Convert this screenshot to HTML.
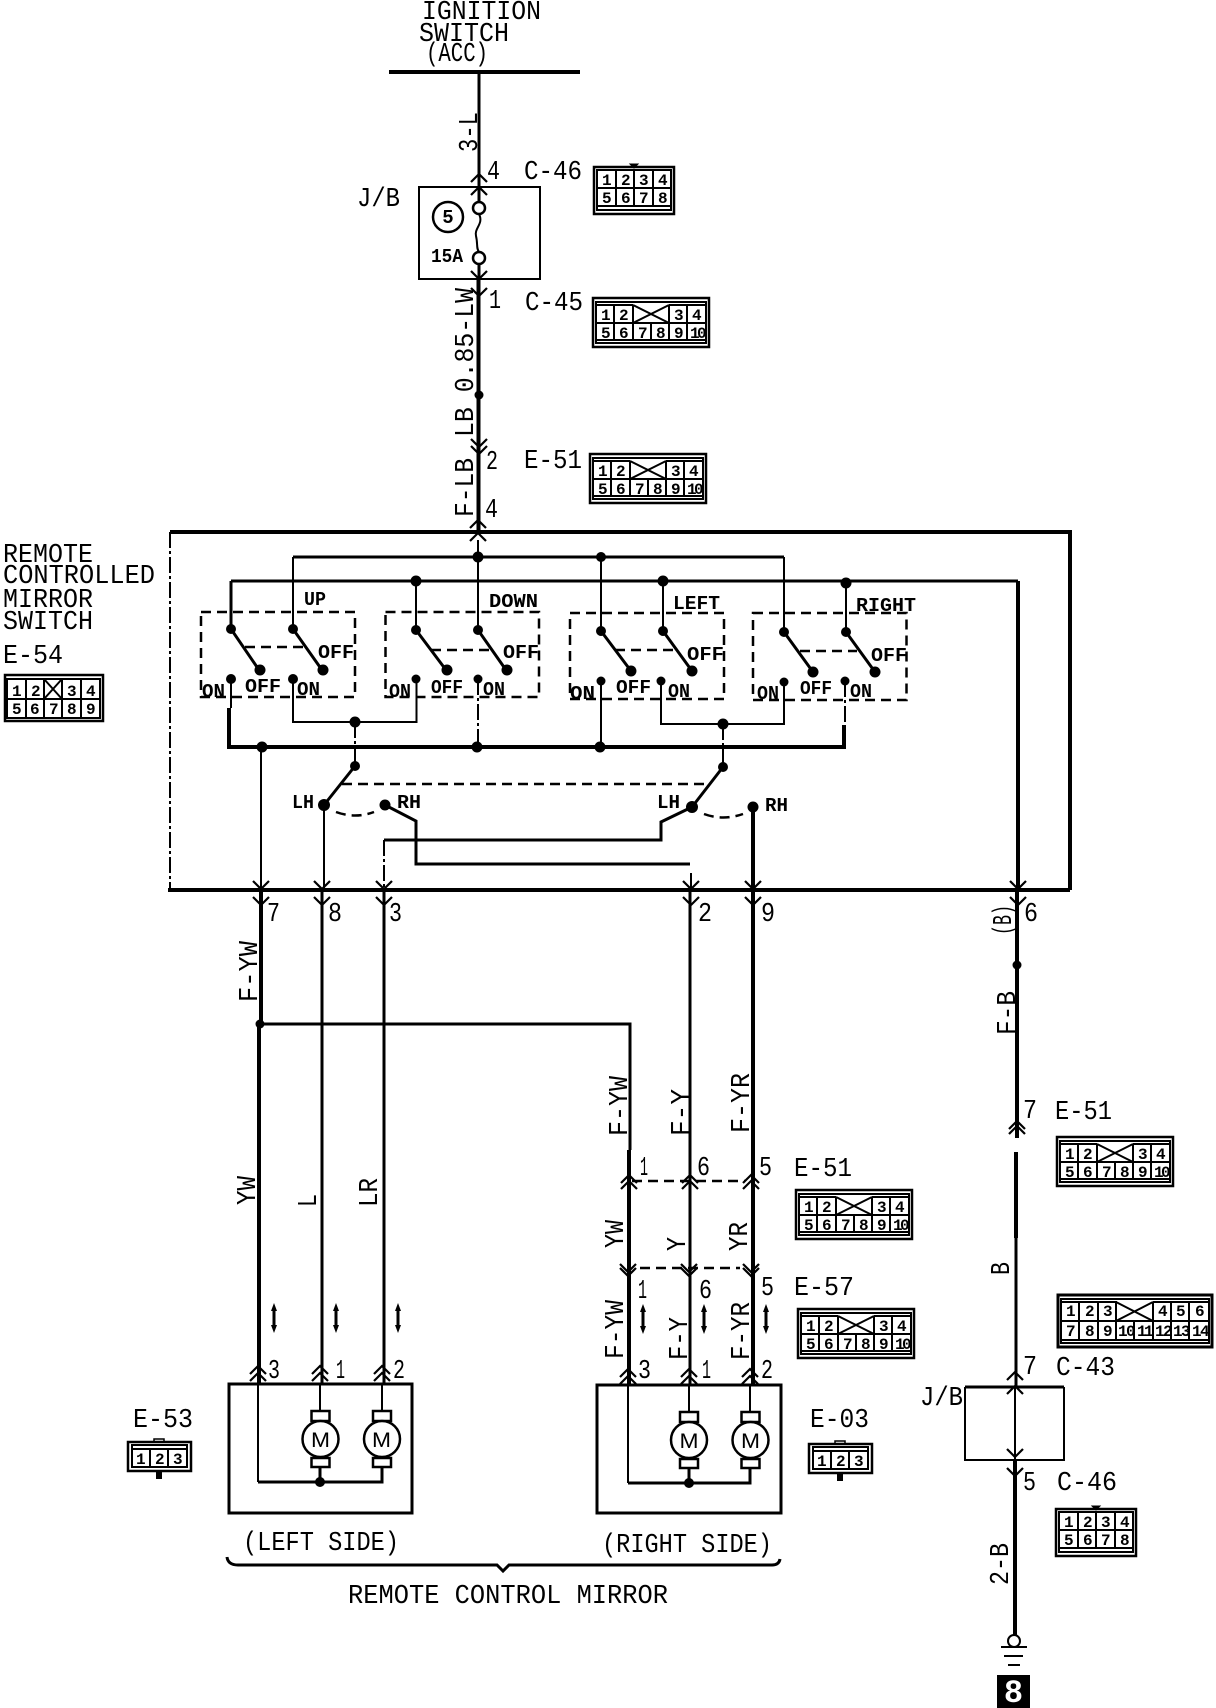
<!DOCTYPE html>
<html lang="en">
<head>
<meta charset="utf-8">
<title>Remote Controlled Mirror Wiring Diagram</title>
<style>
html,body{margin:0;padding:0;background:#fff;width:1216px;height:1708px;overflow:hidden}
svg{display:block}
text{font-family:"Liberation Mono","DejaVu Sans Mono",monospace;fill:#000;font-size:27px}
.s{font-size:19px;font-weight:bold}
.d{font-size:16px;font-weight:bold}
.w{fill:none;stroke:#000;stroke-width:2}
.m{fill:none;stroke:#000;stroke-width:3}
.k{fill:none;stroke:#000;stroke-width:4}
.da{fill:none;stroke:#000;stroke-width:2.5;stroke-dasharray:10 6}
.dd{fill:none;stroke:#000;stroke-width:2;stroke-dasharray:16 3 3 3}
</style>
</head>
<body>
<svg xmlns="http://www.w3.org/2000/svg" width="1216" height="1708" viewBox="0 0 1216 1708">
<defs>
<path id="u" d="M-8,8 L0,0 L8,8" fill="none" stroke="#000" stroke-width="2.2"/>
<path id="n" d="M-8,-8 L0,0 L8,-8" fill="none" stroke="#000" stroke-width="2.2"/>
<path id="ar" d="M0,0 L3,8 L1.500,8 L1.500,22 L3,22 L0,30 L-3,22 L-1.500,22 L-1.500,8 L-3,8 Z" fill="#000"/>
<g id="c10" fill="none" stroke="#000">
<rect x="1" y="1" width="116" height="49" stroke-width="2.5"/>
<path d="M4,5 H114 V46 H4 Z M4,8 H41 M77,8 H114 M4,26 H114 M4,43 H114" stroke-width="2"/>
<path d="M22,8 V43 M41,8 V43 M59,26 V43 M77,8 V43 M95,8 V43 M41,8 L77,26 M77,8 L41,26" stroke-width="2"/>
</g>
<g id="c8" fill="none" stroke="#000">
<rect x="1" y="1" width="80" height="47" stroke-width="2.5"/>
<path d="M4,4 H78 V44 H4 Z M4,22 H78 M4,40 H78 M23,4 V40 M41,4 V40 M60,4 V40" stroke-width="2"/>
<path d="M37,-2 H45 L41,2 Z" fill="#000"/>
</g>
<g id="c3" fill="none" stroke="#000">
<rect x="1" y="1" width="63" height="29" stroke-width="2.5"/>
<path d="M5,4 H60 V26 H5 Z M5,8 H60 M23,8 V26 M41,8 V26" stroke-width="2"/>
<path d="M27,1 V-2 H37 V1" stroke-width="1.5"/>
<rect x="29" y="31" width="6" height="7" fill="#000" stroke="none"/>
</g>
<g id="mo" fill="#fff" stroke="#000" stroke-width="2.5">
<rect x="-9" y="-28" width="18" height="10"/>
<rect x="-9" y="19" width="18" height="9"/>
<circle r="18"/>
</g>
</defs>

<!-- Ignition -->
<text x="422" y="19" textLength="119" lengthAdjust="spacingAndGlyphs">IGNITION</text>
<text x="419" y="41" textLength="90" lengthAdjust="spacingAndGlyphs">SWITCH</text>
<text x="426" y="61" textLength="62" lengthAdjust="spacingAndGlyphs">(ACC)</text>
<path class="k" d="M389,72 H580"/>
<path class="m" d="M479,72 V187 M479,264 V280"/>
<path class="m" d="M479,187 V202"/>
<path class="k" d="M478.500,280 V532"/>
<circle cx="479" cy="395" r="4.500"/>
<text transform="translate(477,152) rotate(-90)" textLength="40" lengthAdjust="spacingAndGlyphs">3-L</text>
<use href="#u" x="479" y="174"/><use href="#u" x="479" y="187"/>
<text x="487" y="179" textLength="13" lengthAdjust="spacingAndGlyphs">4</text>
<text x="524" y="179" textLength="58" lengthAdjust="spacingAndGlyphs">C-46</text>
<text x="357" y="206" textLength="43" lengthAdjust="spacingAndGlyphs">J/B</text>
<rect x="419" y="187" width="121" height="92" class="w"/>
<circle cx="448" cy="217" r="15" fill="none" stroke="#000" stroke-width="2.500"/>
<text x="448" y="223" class="s" text-anchor="middle">5</text>
<circle cx="479" cy="208" r="6" fill="#fff" stroke="#000" stroke-width="2.500"/>
<circle cx="479" cy="258" r="6" fill="#fff" stroke="#000" stroke-width="2.500"/>
<path class="w" d="M479,214 C484,224 474,228 476,236 C478,244 476,248 479,252"/>
<text x="431" y="262" class="s" textLength="32" lengthAdjust="spacingAndGlyphs">15A</text>
<use href="#n" x="479" y="279"/><use href="#n" x="479" y="296"/>
<text x="489" y="308" textLength="12" lengthAdjust="spacingAndGlyphs">1</text>
<text x="525" y="310" textLength="58" lengthAdjust="spacingAndGlyphs">C-45</text>
<text transform="translate(473,437) rotate(-90)" textLength="149" lengthAdjust="spacingAndGlyphs">LB 0.85-LW</text>
<text transform="translate(473,517) rotate(-90)" textLength="59" lengthAdjust="spacingAndGlyphs">F-LB</text>
<use href="#n" x="479" y="447"/><use href="#n" x="479" y="454"/>
<text x="486" y="469" textLength="12" lengthAdjust="spacingAndGlyphs">2</text>
<text x="524" y="468" textLength="58" lengthAdjust="spacingAndGlyphs">E-51</text>
<text x="485" y="517" textLength="13" lengthAdjust="spacingAndGlyphs">4</text>
<use href="#u" x="478" y="520"/><use href="#u" x="478" y="533"/>

<!-- Connectors -->
<g transform="translate(593,166)"><use href="#c8"/>
<text class="d" x="9 28 46 65" y="19">1234</text><text class="d" x="9 28 46 65" y="37">5678</text></g>
<g transform="translate(592,297)"><use href="#c10"/>
<text class="d" x="9 27 82 100" y="23">1234</text><text class="d" x="9 27 46 64 82 98 105" y="41">5678910</text></g>
<g transform="translate(589,453)"><use href="#c10"/>
<text class="d" x="9 27 82 100" y="23">1234</text><text class="d" x="9 27 46 64 82 98 105" y="41">5678910</text></g>
<g transform="translate(795,1189)"><use href="#c10"/>
<text class="d" x="9 27 82 100" y="23">1234</text><text class="d" x="9 27 46 64 82 98 105" y="41">5678910</text></g>
<g transform="translate(797,1308)"><use href="#c10"/>
<text class="d" x="9 27 82 100" y="23">1234</text><text class="d" x="9 27 46 64 82 98 105" y="41">5678910</text></g>
<g transform="translate(1056,1136)"><use href="#c10"/>
<text class="d" x="9 27 82 100" y="23">1234</text><text class="d" x="9 27 46 64 82 98 105" y="41">5678910</text></g>
<g transform="translate(1055,1508)"><use href="#c8"/>
<text class="d" x="9 28 46 65" y="19">1234</text><text class="d" x="9 28 46 65" y="37">5678</text></g>
<g transform="translate(127,1441)"><use href="#c3"/><text class="d" x="9 28 46" y="23">123</text></g>
<g transform="translate(808,1443)"><use href="#c3"/><text class="d" x="9 28 46" y="23">123</text></g>
<!-- E-54 -->
<g transform="translate(4,674)" fill="none" stroke="#000">
<rect x="1" y="1" width="98" height="46" stroke-width="2.500"/>
<path d="M3,5 H96 V44 H3 Z M3,25 H96 M22,5 V44 M40,5 V44 M58,5 V44 M77,5 V44 M40,5 L58,25 M58,5 L40,25" stroke-width="2"/>
<text class="d" x="8 27 63 82" y="22" stroke="none">1234</text><text class="d" x="8 26 45 63 82" y="40" stroke="none">56789</text>
</g>
<!-- 14 pin -->
<g transform="translate(1057,1294)" fill="none" stroke="#000">
<rect x="1" y="1" width="154" height="52" stroke-width="3"/>
<path d="M4,5 H152 V49 H4 Z M4,8 H60 M96,8 H152 M4,27 H152 M4,46 H152" stroke-width="2"/>
<path d="M22,8 V46 M41,8 V46 M59,8 V46 M77,27 V46 M96,8 V46 M114,8 V46 M132,8 V46 M59,8 L96,27 M96,8 L59,27" stroke-width="2"/>
<text class="d" x="9 28 46 101 119 138" y="22" stroke="none">123456</text>
<text class="d" x="9 28 46 61 69 80 87 98 106 116 124 135 143" y="42" stroke="none">7891011121314</text>
</g>

<!-- Title -->
<text x="3" y="562" textLength="90" lengthAdjust="spacingAndGlyphs">REMOTE</text>
<text x="3" y="583" textLength="152" lengthAdjust="spacingAndGlyphs">CONTROLLED</text>
<text x="3" y="607" textLength="90" lengthAdjust="spacingAndGlyphs">MIRROR</text>
<text x="3" y="629" textLength="90" lengthAdjust="spacingAndGlyphs">SWITCH</text>
<text x="3" y="663" textLength="60" lengthAdjust="spacingAndGlyphs">E-54</text>

<!-- Outer switch box -->
<path class="k" d="M170,532 H1070 V890 M1070,890 H168"/>
<path class="dd" d="M170,532 V888"/>

<!-- Buses -->
<path class="m" d="M293,557 H784"/>
<path class="m" d="M231,581 H1018"/>
<path class="k" d="M1018,581 V890"/>
<path class="k" d="M229,708 V747 H844 V725"/>
<path class="w" d="M293,557 V629 M478,540 V630 M601,557 V631 M784,557 V632"/>
<path class="m" d="M231,581 V629"/>
<path class="w" d="M416,581 V630 M663,581 V631 M846,581 V632"/>
<path class="w" d="M231,679 V708 M293,679 V722 H416.500 V679 M661,681 V724 H784 V682"/>
<path class="dd" d="M478,679 V747 M845,681 V725"/>
<path class="w" d="M601,681 V747"/>
<path class="dd" d="M355,722 V766 M723,724 V767"/>

<!-- Switch dashed boxes -->
<rect class="da" x="201" y="612" width="154" height="85"/>
<rect class="da" x="385.500" y="612" width="153.500" height="85"/>
<rect class="da" x="570" y="613" width="154" height="86"/>
<rect class="da" x="753" y="613" width="153.500" height="87"/>
<!-- Blades -->
<path class="m" d="M231,629 L259,670 M293,629 L322,670 M416,630 L446,670 M478,630 L506,670 M601,631 L631,671 M663,631 L692,671 M784,632 L813,672 M846,632 L875,672"/>
<path class="da" d="M245,647 H308 M431,650 H490 M615,650 H678 M800,651 H857"/>
<!-- Dots -->
<g fill="#000">
<circle cx="478" cy="557" r="5.500"/><circle cx="601" cy="557" r="5"/>
<circle cx="416" cy="581" r="5.500"/><circle cx="663" cy="581" r="5.500"/><circle cx="846" cy="583" r="5.500"/>
<circle cx="231" cy="629" r="5"/><circle cx="293" cy="629" r="5"/><circle cx="416" cy="630" r="5"/><circle cx="478" cy="630" r="5"/>
<circle cx="601" cy="631" r="5"/><circle cx="663" cy="631" r="5"/><circle cx="784" cy="632" r="5"/><circle cx="846" cy="632" r="5"/>
<circle cx="260" cy="670" r="5.500"/><circle cx="323" cy="670" r="5.500"/><circle cx="447" cy="670" r="5.500"/><circle cx="507" cy="670" r="5.500"/>
<circle cx="631" cy="671" r="5.500"/><circle cx="692" cy="671" r="5.500"/><circle cx="813" cy="672" r="5.500"/><circle cx="875" cy="672" r="5.500"/>
<circle cx="231" cy="679" r="5"/><circle cx="293" cy="679" r="5"/><circle cx="416" cy="679" r="4.500"/><circle cx="478" cy="679" r="4.500"/>
<circle cx="601" cy="681" r="4.500"/><circle cx="661" cy="681" r="4.500"/><circle cx="784" cy="682" r="4.500"/><circle cx="845" cy="681" r="4.500"/>
<circle cx="355" cy="722" r="5.500"/><circle cx="723" cy="724" r="5.500"/>
<circle cx="262" cy="747" r="5.500"/><circle cx="477" cy="747" r="5.500"/><circle cx="600" cy="747" r="5.500"/>
<circle cx="355" cy="766" r="5"/><circle cx="723" cy="767" r="5"/>
<circle cx="324" cy="805" r="6"/><circle cx="692" cy="807" r="6"/>
<circle cx="385" cy="805" r="5.500"/><circle cx="753" cy="807" r="5.500"/>
</g>
<!-- Switch labels -->
<g>
<text class="s" x="304" y="605" textLength="22" lengthAdjust="spacingAndGlyphs">UP</text>
<text class="s" x="489" y="607" textLength="49" lengthAdjust="spacingAndGlyphs">DOWN</text>
<text class="s" x="673" y="609" textLength="47" lengthAdjust="spacingAndGlyphs">LEFT</text>
<text class="s" x="856" y="611" textLength="60" lengthAdjust="spacingAndGlyphs">RIGHT</text>
<text class="s" x="318" y="658" textLength="36" lengthAdjust="spacingAndGlyphs">OFF</text>
<text class="s" x="503" y="658" textLength="36" lengthAdjust="spacingAndGlyphs">OFF</text>
<text class="s" x="687" y="660" textLength="37" lengthAdjust="spacingAndGlyphs">OFF</text>
<text class="s" x="871" y="661" textLength="36" lengthAdjust="spacingAndGlyphs">OFF</text>
<text class="s" x="245" y="692" textLength="36" lengthAdjust="spacingAndGlyphs">OFF</text>
<text class="s" x="431" y="693" textLength="32" lengthAdjust="spacingAndGlyphs">OFF</text>
<text class="s" x="616" y="693" textLength="35" lengthAdjust="spacingAndGlyphs">OFF</text>
<text class="s" x="800" y="694" textLength="32" lengthAdjust="spacingAndGlyphs">OFF</text>
<text class="s" x="202" y="697" textLength="23" lengthAdjust="spacingAndGlyphs">ON</text>
<text class="s" x="297" y="695" textLength="23" lengthAdjust="spacingAndGlyphs">ON</text>
<text class="s" x="389" y="697" textLength="22" lengthAdjust="spacingAndGlyphs">ON</text>
<text class="s" x="483" y="695" textLength="22" lengthAdjust="spacingAndGlyphs">ON</text>
<text class="s" x="570" y="699" textLength="25" lengthAdjust="spacingAndGlyphs">ON</text>
<text class="s" x="668" y="697" textLength="22" lengthAdjust="spacingAndGlyphs">ON</text>
<text class="s" x="757" y="699" textLength="22" lengthAdjust="spacingAndGlyphs">ON</text>
<text class="s" x="850" y="697" textLength="22" lengthAdjust="spacingAndGlyphs">ON</text>
<text class="s" x="292" y="808" textLength="22" lengthAdjust="spacingAndGlyphs">LH</text>
<text class="s" x="397" y="808" textLength="24" lengthAdjust="spacingAndGlyphs">RH</text>
<text class="s" x="657" y="808" textLength="23" lengthAdjust="spacingAndGlyphs">LH</text>
<text class="s" x="765" y="811" textLength="23" lengthAdjust="spacingAndGlyphs">RH</text>
</g>
<!-- Selector -->
<path class="m" d="M355,766 L324,805 M723,767 L692,807"/>
<path class="da" d="M342,784 H706"/>
<path class="da" d="M336,812 Q355,819 374,812 M704,814 Q723,821 743,814"/>
<path class="m" d="M385,805 L416,821 V864 H690"/>
<path class="m" d="M692,807 L661,822 V840 H384"/>
<path class="dd" d="M384,840 V888"/>
<path class="w" d="M324,805 V888 M261,747 V888"/>
<path class="w" d="M691,873 V890"/>
<path class="k" d="M753,807 V1385"/>

<!-- Lower wires -->
<path class="k" d="M261,890 V1024"/>
<path class="k" d="M259,1024 V1383"/>
<path class="m" d="M322,890 V1383"/>
<path class="m" d="M384,890 V1383"/>
<path class="m" d="M259,1024 H630 V1150"/>
<path class="k" d="M629,1150 V1385"/>
<path class="m" d="M690,890 V1385"/>
<circle cx="260" cy="1024" r="4.500"/>
<g>
<use href="#n" x="261" y="889"/><use href="#n" x="261" y="905"/>
<use href="#n" x="322" y="889"/><use href="#n" x="322" y="905"/>
<use href="#n" x="384" y="889"/><use href="#n" x="384" y="905"/>
<use href="#n" x="691" y="889"/><use href="#n" x="691" y="905"/>
<use href="#n" x="753" y="889"/><use href="#n" x="753" y="905"/>
<use href="#n" x="1018" y="889"/><use href="#n" x="1018" y="905"/>
</g>
<text x="267" y="921" textLength="13" lengthAdjust="spacingAndGlyphs">7</text>
<text x="328" y="921" textLength="14" lengthAdjust="spacingAndGlyphs">8</text>
<text x="389" y="921" textLength="13" lengthAdjust="spacingAndGlyphs">3</text>
<text x="698" y="921" textLength="14" lengthAdjust="spacingAndGlyphs">2</text>
<text x="761" y="921" textLength="14" lengthAdjust="spacingAndGlyphs">9</text>
<text x="1024" y="921" textLength="14" lengthAdjust="spacingAndGlyphs">6</text>
<text transform="translate(1011,935) rotate(-90)" textLength="30" lengthAdjust="spacingAndGlyphs">(B)</text>

<text transform="translate(257,1002) rotate(-90)" textLength="61" lengthAdjust="spacingAndGlyphs">F-YW</text>
<text transform="translate(255,1205) rotate(-90)" textLength="29" lengthAdjust="spacingAndGlyphs">YW</text>
<text transform="translate(316,1207) rotate(-90)" textLength="13" lengthAdjust="spacingAndGlyphs">L</text>
<text transform="translate(377,1207) rotate(-90)" textLength="29" lengthAdjust="spacingAndGlyphs">LR</text>

<text transform="translate(627,1136) rotate(-90)" textLength="60" lengthAdjust="spacingAndGlyphs">F-YW</text>
<text transform="translate(689,1136) rotate(-90)" textLength="47" lengthAdjust="spacingAndGlyphs">F-Y</text>
<text transform="translate(749,1133) rotate(-90)" textLength="60" lengthAdjust="spacingAndGlyphs">F-YR</text>
<text transform="translate(623,1248) rotate(-90)" textLength="28" lengthAdjust="spacingAndGlyphs">YW</text>
<text transform="translate(685,1251) rotate(-90)" textLength="14" lengthAdjust="spacingAndGlyphs">Y</text>
<text transform="translate(747,1251) rotate(-90)" textLength="29" lengthAdjust="spacingAndGlyphs">YR</text>
<text transform="translate(623,1359) rotate(-90)" textLength="59" lengthAdjust="spacingAndGlyphs">F-YW</text>
<text transform="translate(687,1360) rotate(-90)" textLength="43" lengthAdjust="spacingAndGlyphs">F-Y</text>
<text transform="translate(749,1360) rotate(-90)" textLength="58" lengthAdjust="spacingAndGlyphs">F-YR</text>

<!-- Row E-51 / E-57 -->
<path class="da" d="M632,1181 H745"/>
<path class="da" d="M640,1268 H740"/>
<use href="#u" x="629" y="1175"/><use href="#u" x="629" y="1181"/>
<use href="#u" x="690" y="1175"/><use href="#u" x="690" y="1181"/>
<use href="#u" x="751" y="1175"/><use href="#u" x="751" y="1181"/>
<use href="#n" x="628" y="1272"/><use href="#n" x="628" y="1276"/>
<use href="#n" x="689" y="1272"/><use href="#n" x="689" y="1276"/>
<use href="#n" x="751" y="1272"/><use href="#n" x="751" y="1276"/>
<text x="640" y="1175" textLength="8" lengthAdjust="spacingAndGlyphs">1</text>
<text x="697" y="1175" textLength="13" lengthAdjust="spacingAndGlyphs">6</text>
<text x="759" y="1175" textLength="13" lengthAdjust="spacingAndGlyphs">5</text>
<text x="794" y="1176" textLength="58" lengthAdjust="spacingAndGlyphs">E-51</text>
<text x="638" y="1298" textLength="9" lengthAdjust="spacingAndGlyphs">1</text>
<text x="699" y="1298" textLength="13" lengthAdjust="spacingAndGlyphs">6</text>
<text x="761" y="1295" textLength="13" lengthAdjust="spacingAndGlyphs">5</text>
<text x="794" y="1295" textLength="60" lengthAdjust="spacingAndGlyphs">E-57</text>

<use href="#ar" x="274" y="1303"/><use href="#ar" x="336" y="1303"/><use href="#ar" x="398" y="1303"/>
<use href="#ar" x="643" y="1304"/><use href="#ar" x="704" y="1304"/><use href="#ar" x="766" y="1304"/>

<!-- Motors left -->
<use href="#u" x="258" y="1366"/><use href="#u" x="258" y="1373"/>
<use href="#u" x="320" y="1366"/><use href="#u" x="320" y="1373"/>
<use href="#u" x="382" y="1366"/><use href="#u" x="382" y="1373"/>
<text x="268" y="1378" textLength="12" lengthAdjust="spacingAndGlyphs">3</text>
<text x="336" y="1378" textLength="9" lengthAdjust="spacingAndGlyphs">1</text>
<text x="393" y="1378" textLength="12" lengthAdjust="spacingAndGlyphs">2</text>
<rect class="m" x="229" y="1384" width="183" height="129"/>
<path class="w" d="M320,1384 V1411 M382,1384 V1411 M258,1384 V1482"/>
<path class="m" d="M258,1482 H382 V1467 M320,1467 V1482"/>
<g transform="translate(320.500,1439)"><use href="#mo"/></g>
<g transform="translate(382,1439)"><use href="#mo"/></g>
<text x="311" y="1447" textLength="19" lengthAdjust="spacingAndGlyphs" style="font-family:'Liberation Sans',sans-serif;font-size:21px">M</text>
<text x="372" y="1447" textLength="19" lengthAdjust="spacingAndGlyphs" style="font-family:'Liberation Sans',sans-serif;font-size:21px">M</text>
<circle cx="320" cy="1482" r="5"/>
<text x="133" y="1427" textLength="60" lengthAdjust="spacingAndGlyphs">E-53</text>
<text x="243" y="1550" textLength="156" lengthAdjust="spacingAndGlyphs">(LEFT SIDE)</text>

<!-- Motors right -->
<use href="#u" x="628" y="1369"/><use href="#u" x="628" y="1376"/>
<use href="#u" x="689" y="1369"/><use href="#u" x="689" y="1376"/>
<use href="#u" x="750" y="1369"/><use href="#u" x="750" y="1376"/>
<text x="638" y="1378" textLength="13" lengthAdjust="spacingAndGlyphs">3</text>
<text x="702" y="1378" textLength="9" lengthAdjust="spacingAndGlyphs">1</text>
<text x="761" y="1378" textLength="12" lengthAdjust="spacingAndGlyphs">2</text>
<rect class="m" x="597" y="1385" width="184" height="128"/>
<path class="w" d="M689,1385 V1412 M750,1385 V1412 M628,1385 V1483"/>
<path class="m" d="M628,1483 H750 V1468 M689,1468 V1483"/>
<g transform="translate(689,1440)"><use href="#mo"/></g>
<g transform="translate(750.500,1440)"><use href="#mo"/></g>
<text x="679.500" y="1448" textLength="19" lengthAdjust="spacingAndGlyphs" style="font-family:'Liberation Sans',sans-serif;font-size:21px">M</text>
<text x="741" y="1448" textLength="19" lengthAdjust="spacingAndGlyphs" style="font-family:'Liberation Sans',sans-serif;font-size:21px">M</text>
<circle cx="689" cy="1483" r="5"/>
<text x="810" y="1427" textLength="59" lengthAdjust="spacingAndGlyphs">E-03</text>
<text x="602" y="1552" textLength="170" lengthAdjust="spacingAndGlyphs">(RIGHT SIDE)</text>

<!-- Bracket -->
<path class="m" d="M227,1557 Q228,1565 238,1565 H497 L503,1571 L509,1565 H772 Q779,1565 780,1559"/>
<text x="348" y="1603" textLength="320" lengthAdjust="spacingAndGlyphs">REMOTE CONTROL MIRROR</text>

<!-- Right column -->
<path class="k" d="M1017,890 V1138 M1016,1152 V1238"/>
<path class="m" d="M1016,1238 V1387"/>
<path class="w" d="M1015,1387 V1460"/>
<path class="k" d="M1015,1460 V1635"/>
<circle cx="1017" cy="965" r="4.500"/>
<text transform="translate(1015,1035) rotate(-90)" textLength="44" lengthAdjust="spacingAndGlyphs">F-B</text>
<use href="#u" x="1017" y="1121"/><use href="#u" x="1017" y="1126"/>
<text x="1023" y="1118" textLength="14" lengthAdjust="spacingAndGlyphs">7</text>
<text x="1055" y="1119" textLength="57" lengthAdjust="spacingAndGlyphs">E-51</text>
<text transform="translate(1009,1275) rotate(-90)" textLength="13" lengthAdjust="spacingAndGlyphs">B</text>
<text x="1023" y="1374" textLength="14" lengthAdjust="spacingAndGlyphs">7</text>
<text x="1056" y="1375" textLength="59" lengthAdjust="spacingAndGlyphs">C-43</text>
<text x="920" y="1405" textLength="43" lengthAdjust="spacingAndGlyphs">J/B</text>
<path class="m" d="M965,1387 H1064"/>
<path class="w" d="M965,1387 V1460 H1064 V1387"/>
<use href="#u" x="1015" y="1372"/><use href="#u" x="1015" y="1386"/>
<use href="#n" x="1015" y="1457"/><use href="#n" x="1015" y="1476"/>
<text x="1023" y="1490" textLength="13" lengthAdjust="spacingAndGlyphs">5</text>
<text x="1057" y="1490" textLength="60" lengthAdjust="spacingAndGlyphs">C-46</text>
<text transform="translate(1008,1585) rotate(-90)" textLength="42" lengthAdjust="spacingAndGlyphs">2-B</text>
<circle cx="1014" cy="1641" r="6" fill="#fff" stroke="#000" stroke-width="2"/>
<path class="w" d="M1001,1647 H1027 M1004,1656 H1023 M1008,1665 H1020"/>
<rect x="997" y="1675" width="33" height="33" fill="#000"/>
<text x="1013.500" y="1702" text-anchor="middle" style="fill:#fff;font-weight:bold;font-size:32px">8</text>
</svg>
</body>
</html>
